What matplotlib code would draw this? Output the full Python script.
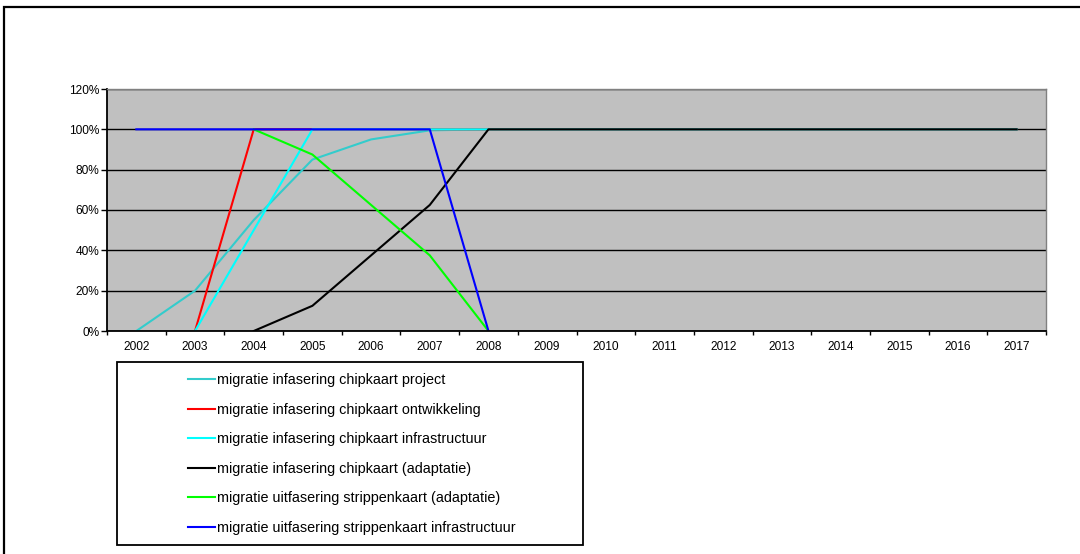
import numpy as np
import matplotlib.pyplot as plt
from matplotlib.patches import Rectangle

plt.rcParams['font.family'] = ['Liberation Sans', 'DejaVu Sans']

nan = np.nan
years = [str(y) for y in range(2002, 2018)]

# fractions per year, nan where a series has no value
project = [0, 0.20, 0.55, 0.85, 0.95, 0.995, 1.0] + [1.0] * 9
ontwikkeling = [nan, 0, 1.0, 1.0, 1.0, 1.0, 1.0] + [nan] * 9
infrastructuur = [nan, 0, 0.50, 1.0, 1.0, 1.0, 1.0] + [nan] * 9
adaptatie = [nan, nan, 0, 0.125, 0.375, 0.625, 1.0] + [1.0] * 9
uitfasering_adapt = [nan, nan, 1.0, 0.875, 0.625, 0.375, 0] + [nan] * 9
uitfasering_infra = [1.0, 1.0, 1.0, 1.0, 1.0, 1.0, 0] + [nan] * 9

series = [
    ("migratie infasering chipkaart project", project, "#33CCCC"),
    ("migratie infasering chipkaart ontwikkeling", ontwikkeling, "#FF0000"),
    ("migratie infasering chipkaart infrastructuur", infrastructuur, "#00FFFF"),
    ("migratie infasering chipkaart (adaptatie)", adaptatie, "#000000"),
    ("migratie uitfasering strippenkaart (adaptatie)", uitfasering_adapt, "#00FF00"),
    ("migratie uitfasering strippenkaart infrastructuur", uitfasering_infra, "#0000FF"),
]

W, H = 1080, 554
fig = plt.figure(figsize=(W / 100, H / 100), dpi=100)
fig.patch.set_facecolor("white")

# outer chart frame
fig.patches.append(Rectangle((4 / W, -0.1), 1.2, 1 - 7 / H + 0.1, transform=fig.transFigure,
                             fill=False, edgecolor="black", linewidth=1.6))

left, right, top, bottom = 107, 1046, 89, 331
ax = fig.add_axes([left / W, 1 - bottom / H, (right - left) / W, (bottom - top) / H])
ax.set_facecolor("#C0C0C0")

x = np.arange(len(years))
for label, vals, color in series:
    ax.plot(x, vals, color=color, linewidth=1.5, label=label)

ax.set_xlim(-0.5, len(years) - 0.5)
ax.set_ylim(0, 1.2)
ax.set_yticks(np.arange(0, 1.21, 0.2))
ax.set_yticklabels([f"{int(round(v * 100))}%" for v in np.arange(0, 1.21, 0.2)], fontsize=8.6)
ax.yaxis.grid(True, color="black", linewidth=1.0)
ax.set_axisbelow(True)

ax.set_xticks(x)
ax.set_xticklabels(years, fontsize=8.6)
ax.set_xticks(np.arange(-0.5, len(years), 1.0), minor=True)
ax.tick_params(axis="x", which="major", length=0, pad=7)
ax.tick_params(axis="x", which="minor", length=3, width=1, color="black")
ax.tick_params(axis="y", length=4, width=1, pad=1.5)

for side in ("left", "bottom"):
    ax.spines[side].set_color("black")
    ax.spines[side].set_linewidth(1.3)
for side in ("top", "right"):
    ax.spines[side].set_color("#808080")
    ax.spines[side].set_linewidth(1.0)

# legend entries sit inside a wider box, Excel style
fig.patches.append(Rectangle((117 / W, 1 - 545 / H), (583 - 117) / W, (545 - 362) / H,
                             transform=fig.transFigure, fill=False, edgecolor="black", linewidth=1.3))
leg = fig.legend(loc="upper left", bbox_to_anchor=(188 / W, 1 - 373 / H), bbox_transform=fig.transFigure,
                 fontsize=10.4, frameon=False, handlelength=1.9, handletextpad=0.12,
                 labelspacing=1.08, borderpad=0, borderaxespad=0)

fig.savefig("out.png", dpi=100)
